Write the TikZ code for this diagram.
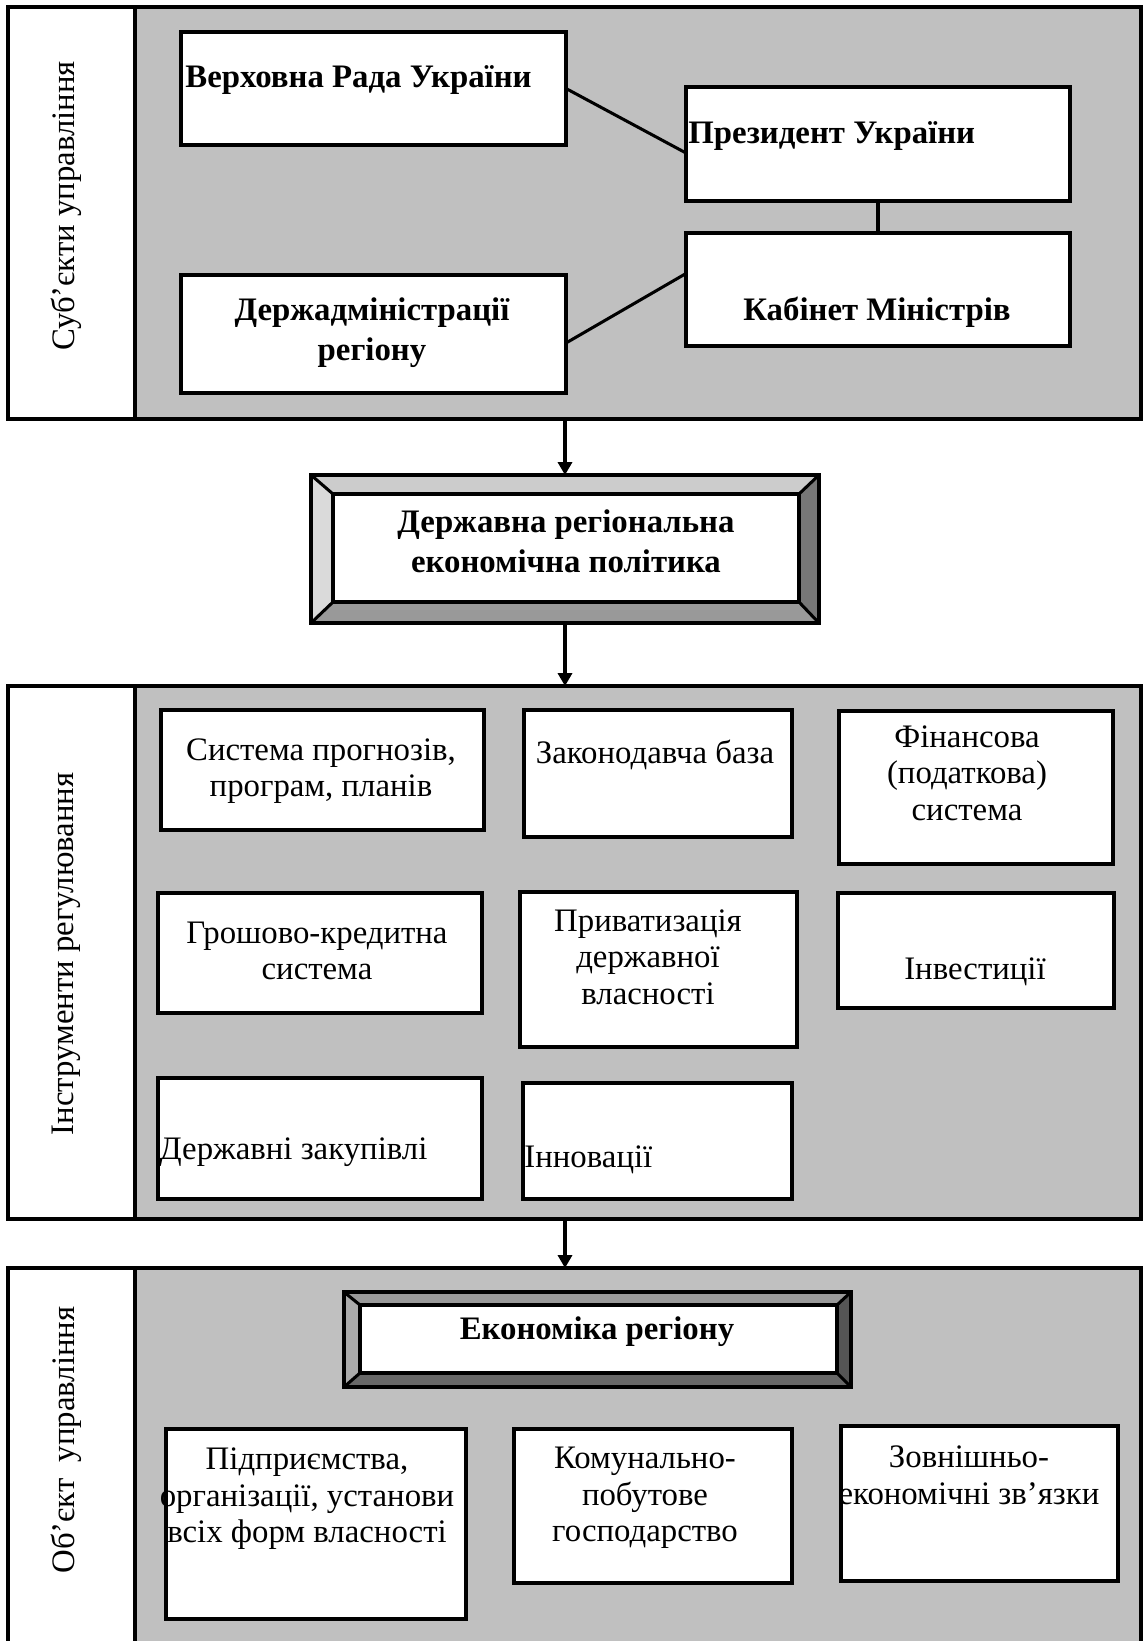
\documentclass[tikz,border=0pt]{standalone}
\usepackage{fontspec}
\setmainfont{Liberation Serif}
\usetikzlibrary{positioning,fit,calc,arrows.meta}
\definecolor{panelgrey}{HTML}{C0C0C0}
\definecolor{bevpale}{HTML}{DADADA}
\definecolor{bevlight}{HTML}{CCCCCC}
\definecolor{bevmid}{HTML}{999999}
\definecolor{bevdark}{HTML}{777777}
\definecolor{bevpaleB}{HTML}{ABABAB}
\definecolor{bevlightB}{HTML}{999999}
\definecolor{bevmidB}{HTML}{686868}
\definecolor{bevdarkB}{HTML}{555555}
\tikzset{
  panel/.style={
    draw,
    line width=1.4pt,
    fill=panelgrey,
    inner sep=0pt,
    outer sep=0pt
  },
  tagcol/.style={
    draw,
    line width=1.4pt,
    fill=white,
    inner sep=0pt,
    outer sep=0pt
  },
  box/.style={
    draw,
    line width=1.4pt,
    fill=white,
    inner sep=0pt,
    outer sep=0pt
  },
  frame/.style={
    inner sep=0pt,
    outer sep=0pt
  },
}
\tikzset{
  txt/.style={
    font=\fontsize{14pt}{15.6pt}\selectfont,
    align=center,
    inner sep=0pt
  },
  boldtxt/.style={
    font=\fontsize{14pt}{17pt}\selectfont\bfseries,
    align=center,
    inner sep=0pt
  },
  sidetxt/.style={
    font=\fontsize{14pt}{15.6pt}\selectfont,
    rotate=90,
    inner sep=0pt
  },
  link/.style={
    line width=1.3pt
  },
  arr/.style={
    line width=1.3pt,
    -{Triangle[length=5.5pt,width=6pt]}
  }
}

\begin{document}
\begin{tikzpicture}[x=0.015cm, y=-0.015cm]
        \useasboundingbox (0,0) rectangle (1144,1641);
        \clip (0,0) rectangle (1144,1641);
        % subjects
        \node[panel, fit={(8,7) (1141,419)}] (panA) {};
        \node[tagcol, fit={(8,7) (135,419)}] (panA-tag) {};
        \node[sidetxt] (panA-t) at (66,206) {Суб’єкти управління};
        \node[box, fit={(181,32) (566,145)}] (rada) {};
        \node[box, fit={(686,87) (1070,201)}] (prez) {};
        \node[box, fit={(686,233) (1070,346)}] (kab) {};
        \node[box, fit={(181,275) (566,393)}] (derzh) {};
        \draw[link] (rada.east) -- ($(prez.west)+(0,9)$);
        \draw[link] (prez.south) -- (kab.north);
        \draw[link] ($(derzh.east)+(0,9)$) -- ($(kab.west)+(0,-16)$);
        \node[boldtxt, anchor=west] (rada-t) at (185,80) {Верховна Рада України};
        \node[boldtxt, anchor=west] (prez-t) at (688,136) {Президент України};
        \node[boldtxt] (kab-t) at (877,312) {Кабінет Міністрів};
        \node[boldtxt] (derzh-t) at (372,333) {Держадміністрації\\регіону};
        % policy
        \node[frame, fit={(311,475) (819,623)}] (pol) {};
        \node[frame, fit={(333,494) (799,602)}] (pol-in) {};
        \fill[bevlight] (pol.north west) -- (pol.north east) -- (pol-in.north east) -- (pol-in.north west) -- cycle;
        \fill[bevpale] (pol.north west) -- (pol-in.north west) -- (pol-in.south west) -- (pol.south west) -- cycle;
        \fill[bevdark] (pol.north east) -- (pol-in.north east) -- (pol-in.south east) -- (pol.south east) -- cycle;
        \fill[bevmid] (pol.south west) -- (pol-in.south west) -- (pol-in.south east) -- (pol.south east) -- cycle;
        \draw[link] (pol.north west) -- (pol-in.north west);
        \draw[link] (pol.north east) -- (pol-in.north east);
        \draw[link] (pol.south west) -- (pol-in.south west);
        \draw[link] (pol.south east) -- (pol-in.south east);
        \draw[link] (pol.north west) rectangle (pol.south east);
        \draw[link, fill=white] (pol-in.north west) rectangle (pol-in.south east);
        \node[boldtxt] (pol-t) at (566,541) {Державна регіональна\\економічна політика};
        \draw[arr] (pol.north |- panA.south) -- (pol.north);
        % instruments
        \node[panel, fit={(8,686) (1141,1219)}] (panB) {};
        \node[tagcol, fit={(8,686) (135,1219)}] (panB-tag) {};
        \node[sidetxt] (panB-t) at (66,954) {Інструменти регулювання};
        \draw[arr] (pol.south) -- (pol.south |- panB.north);
        \node[box, fit={(161,710) (484,830)}] (prog) {};
        \node[box, fit={(524,710) (792,837)}] (zakon) {};
        \node[box, fit={(839,711) (1113,864)}] (fin) {};
        \node[box, fit={(158,893) (482,1013)}] (grosh) {};
        \node[box, fit={(520,892) (797,1047)}] (pryv) {};
        \node[box, fit={(838,893) (1114,1008)}] (invest) {};
        \node[box, fit={(158,1078) (482,1199)}] (zakup) {};
        \node[box, fit={(523,1083) (792,1199)}] (innov) {};
        \node[txt] (prog-t) at (321,771) {Система прогнозів,\\програм, планів};
        \node[txt] (zakon-t) at (655,755) {Законодавча база};
        \node[txt] (fin-t) at (967,773) {Фінансова\\(податкова)\\система};
        \node[txt] (grosh-t) at (317,951) {Грошово-кредитна\\система};
        \node[txt] (pryv-t) at (648,957) {Приватизація\\державної\\власності};
        \node[txt] (invest-t) at (975,972) {Інвестиції};
        \node[txt, anchor=west] (zakup-t) at (159,1152) {Державні закупівлі};
        \node[txt, anchor=west] (innov-t) at (524,1160) {Інновації};
        % object
        \node[panel, fit={(8,1268) (1141,1720)}] (panC) {};
        \node[tagcol, fit={(8,1268) (135,1720)}] (panC-tag) {};
        \node[sidetxt] (panC-t) at (66,1440) {Об’єкт~~управління};
        \draw[arr] (panB.south -| pol) -- (panC.north -| pol);
        \node[frame, fit={(344,1292) (851,1387)}] (econ) {};
        \node[frame, fit={(360,1305) (837,1373)}] (econ-in) {};
        \fill[bevlightB] (econ.north west) -- (econ.north east) -- (econ-in.north east) -- (econ-in.north west) -- cycle;
        \fill[bevpaleB] (econ.north west) -- (econ-in.north west) -- (econ-in.south west) -- (econ.south west) -- cycle;
        \fill[bevdarkB] (econ.north east) -- (econ-in.north east) -- (econ-in.south east) -- (econ.south east) -- cycle;
        \fill[bevmidB] (econ.south west) -- (econ-in.south west) -- (econ-in.south east) -- (econ.south east) -- cycle;
        \draw[link] (econ.north west) -- (econ-in.north west);
        \draw[link] (econ.north east) -- (econ-in.north east);
        \draw[link] (econ.south west) -- (econ-in.south west);
        \draw[link] (econ.south east) -- (econ-in.south east);
        \draw[link] (econ.north west) rectangle (econ.south east);
        \draw[link, fill=white] (econ-in.north west) rectangle (econ-in.south east);
        \node[boldtxt] (econ-t) at (597,1332) {Економіка регіону};
        \node[box, fit={(166,1429) (466,1619)}] (firms) {};
        \node[box, fit={(514,1429) (792,1583)}] (komun) {};
        \node[box, fit={(841,1426) (1118,1581)}] (zovn) {};
        \node[txt] (firms-t) at (307,1499) {Підприємства,\\організації, установи\\всіх форм власності};
        \node[txt] (komun-t) at (645,1498) {Комунально-\\побутове\\господарство};
        \node[txt] (zovn-t) at (969,1475) {Зовнішньо-\\економічні зв’язки};
\end{tikzpicture}
\end{document}
